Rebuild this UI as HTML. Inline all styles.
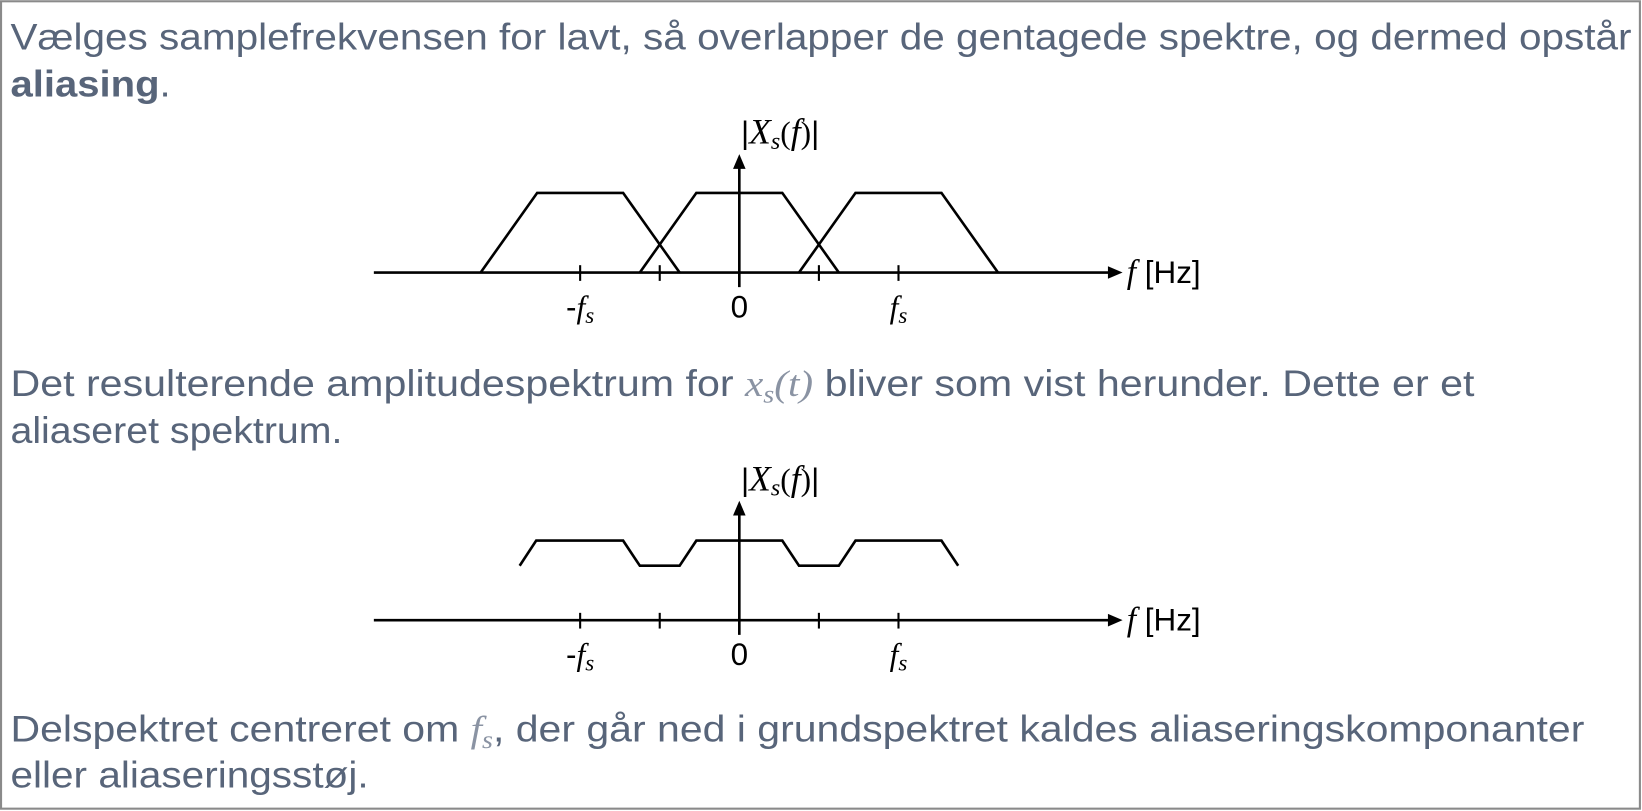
<!DOCTYPE html>
<html><head><meta charset="utf-8"><style>
html,body{margin:0;padding:0;background:#fff;width:1642px;height:811px;overflow:hidden}
svg{display:block}
.t{font-family:"Liberation Sans",sans-serif;font-size:35px;fill:#58657a}
.m{font-family:"Liberation Serif",serif;font-style:italic}
.lab{font-family:"Liberation Sans",sans-serif;font-size:30px;fill:#000}
</style></head><body>
<svg id="root" width="1642" height="811" viewBox="0 0 1568 774">
<rect x="1" y="1" width="1565" height="771" fill="#fff" stroke="#8a8a8a" stroke-width="2"/>
<text class="t" x="10" y="47" textLength="1548" lengthAdjust="spacingAndGlyphs">Vælges samplefrekvensen for lavt, så overlapper de gentagede spektre, og dermed opstår</text>
<text class="t" x="10" y="92" textLength="153" lengthAdjust="spacingAndGlyphs"><tspan font-weight="bold">aliasing</tspan>.</text>
<text class="t" x="10" y="378" textLength="1398" lengthAdjust="spacingAndGlyphs">Det resulterende amplitudespektrum for <tspan class="m" fill="#8a93a3">x<tspan font-size="24" dy="6">s</tspan><tspan dy="-6">(t)</tspan></tspan> bliver som vist herunder. Dette er et</text>
<text class="t" x="10" y="423" textLength="317" lengthAdjust="spacingAndGlyphs">aliaseret spektrum.</text>
<text class="t" x="10" y="708" textLength="1503" lengthAdjust="spacingAndGlyphs">Delspektret centreret om <tspan class="m" fill="#8a93a3">f<tspan font-size="24" dy="6">s</tspan></tspan><tspan dy="-6">, der går ned i grundspektret kaldes aliaseringskomponanter</tspan></text>
<text class="t" x="10" y="752" textLength="342" lengthAdjust="spacingAndGlyphs">eller aliaseringsstøj.</text>
<g id="c1"></g>
<g id="c2"></g>
</svg>
<script>
// Chart 1: repeated trapezoid spectra (f in units of fs, height normalized)
const repCenters = [-1, 0, 1];
const trapHalfBase = [0.625];
const trapHalfTop = [0.27];
const trapHeight = [1];
// Chart 2: aliased (summed) spectrum
const aliasF = [-1.38, -1.276, -0.73, -0.625, -0.375, -0.27, 0.27, 0.375, 0.625, 0.73, 1.27, 1.375];
const aliasV = [0.684, 1, 1, 0.684, 0.684, 1, 1, 0.684, 0.684, 1, 1, 0.684];
const tickF = [-1, -0.5, 0.5, 1];
const tickLabels = ["-f", "0", "f"];
const tickLabelF = [-1, 0, 1];

const NS = "http://www.w3.org/2000/svg";
function mk(tag, attrs, parent){const e=document.createElementNS(NS,tag);for(const k in attrs)e.setAttribute(k,attrs[k]);parent.appendChild(e);return e;}
const X0 = 706, FS = 152, UNIT = 76;
const xs = f => X0 + f*FS;

function axes(g, y0, yTop){
  const ys = v => y0 - v*UNIT;
  let e = mk("line",{x1:357,y1:y0,x2:1062,y2:y0,stroke:"#000","stroke-width":2.5},g);
  
  
  e = mk("polygon",{points:`1072,${y0} 1058,${y0-6} 1058,${y0+6}`,fill:"#000"},g);
  
  
  e = mk("line",{x1:X0,y1:y0+14,x2:X0,y2:yTop+10,stroke:"#000","stroke-width":2.5},g);
  
  
  e = mk("polygon",{points:`${X0},${yTop} ${X0-6},${yTop+14} ${X0+6},${yTop+14}`,fill:"#000"},g);
  
  
  tickF.forEach(f=>{
    const t = mk("line",{x1:xs(f),y1:y0-7,x2:xs(f),y2:y0+8,stroke:"#000","stroke-width":2},g);
    
    
  });
  tickLabelF.forEach((f,i)=>{
    const t = mk("text",{x:xs(f),y:y0+43,"text-anchor":"middle",class:"lab"},g);
    
    
    if(tickLabels[i]==="0"){t.textContent="0";}
    else{
      if(tickLabels[i].startsWith("-")){const s=mk("tspan",{},t);s.textContent="-";}
      const a=mk("tspan",{class:"m","font-size":"30"},t);a.textContent="f";
      const b=mk("tspan",{class:"m","font-size":"22",dy:"5"},t);b.textContent="s";
    }
  });
  const lab = mk("text",{x:1076,y:y0+10,class:"lab","font-size":"31"},g);
  
  
  lab.innerHTML = '<tspan class="m" font-size="32">f</tspan> [Hz]';
  const yl = mk("text",{x:745,y:yTop-10,"text-anchor":"middle",class:"lab","font-size":"33"},g);
  
  
  yl.innerHTML = '|<tspan class="m" font-size="34">X</tspan><tspan class="m" font-size="23" dy="5">s</tspan><tspan dy="-5" font-family="Liberation Serif">(</tspan><tspan class="m" font-size="34">f</tspan><tspan font-family="Liberation Serif">)</tspan>|';
  return ys;
}

const g1 = document.getElementById("c1");
const ys1 = axes(g1, 260, 147);
repCenters.forEach(c=>{
  const hb=trapHalfBase[0], ht=trapHalfTop[0], h=trapHeight[0];
  const pts=[[c-hb,0],[c-ht,h],[c+ht,h],[c+hb,0]].map(p=>xs(p[0])+","+ys1(p[1])).join(" ");
  const p = mk("polyline",{points:pts,fill:"none",stroke:"#000","stroke-width":2.5},g1);
  
  
});

const g2 = document.getElementById("c2");
const ys2 = axes(g2, 592, 478);
const pts2 = aliasF.map((f,i)=>xs(f)+","+ys2(aliasV[i])).join(" ");
const p2 = mk("polyline",{points:pts2,fill:"none",stroke:"#000","stroke-width":2.5},g2);


</script>
</body></html>
